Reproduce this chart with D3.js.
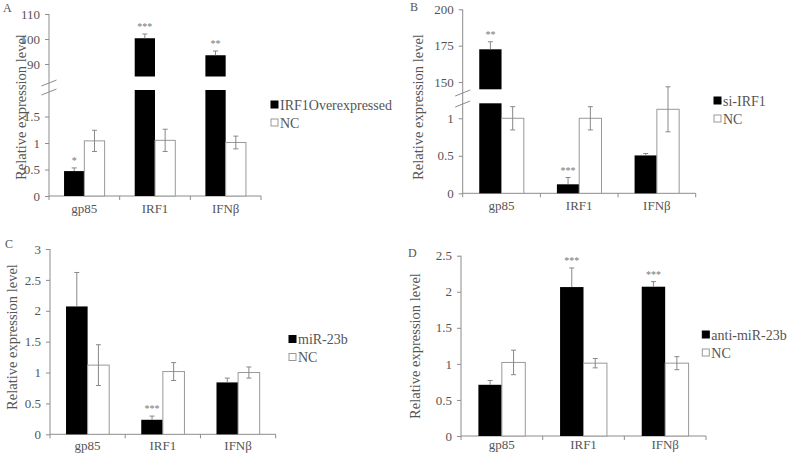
<!DOCTYPE html>
<html><head><meta charset="utf-8">
<script src="https://cdn.jsdelivr.net/npm/d3@7"></script>
<style>body{margin:0;background:#fff}svg{display:block}
svg text{font-family:"Liberation Serif","DejaVu Serif","Times New Roman",Times,serif !important;}</style>
</head><body>
<svg id="c" width="787" height="463"></svg>
<script>
const categories = ["gp85", "IRF1", "IFNβ"];

const aTreat = [0.47, 100.3, 93.5];
const aTreatErr = [0.06, 1.7, 1.7];
const aNC = [1.04, 1.05, 1.01];
const aNCErr = [0.2, 0.21, 0.12];
const aStars = ["*", "***", "**"];
const aLegend = ["IRF1Overexpressed", "NC"];

const bTreat = [172.5, 0.12, 0.505];
const bTreatErr = [5.2, 0.09, 0.025];
const bNC = [1.0, 1.0, 1.12];
const bNCErr = [0.155, 0.155, 0.3];
const bStars = ["**", "***", ""];
const bLegend = ["si-IRF1", "NC"];

const cTreat = [2.07, 0.235, 0.84];
const cTreatErr = [0.55, 0.06, 0.07];
const cNC = [1.12, 1.016, 1.0];
const cNCErr = [0.33, 0.145, 0.09];
const cStars = ["", "***", ""];
const cLegend = ["miR-23b", "NC"];

const dTreat = [0.71, 2.065, 2.07];
const dTreatErr = [0.06, 0.265, 0.07];
const dNC = [1.02, 1.01, 1.01];
const dNCErr = [0.17, 0.065, 0.09];
const dStars = ["", "***", "***"];
const dLegend = ["anti-miR-23b", "NC"];

const aTicksLow = [0, 0.5, 1, 1.5], aTicksHigh = [90, 100, 110];
const bTicksLow = [0, 0.5, 1], bTicksHigh = [150, 175, 200];
const cTicks = [0, 0.5, 1, 1.5, 2, 2.5, 3];
const dTicks = [0, 0.5, 1, 1.5, 2, 2.5];

const svg = d3.select("#c");
const FONT = "Liberation Serif";
const AX = "#8c8c8c", TXT = "#555";

function panel(o) {
  const g = svg.append("g").attr("font-family", FONT);
  const x = d3.scaleBand().domain(categories).range(o.xr);
  const bw = x.bandwidth(), barW = bw * 0.287;
  const low = d3.scaleLinear().domain(o.low).range(o.lowR);
  const high = o.high ? d3.scaleLinear().domain(o.high).range(o.highR) : null;
  const yv = v => (high && v > o.low[1]) ? high(v) : low(v);
  const x0 = o.xr[0], yBase = o.lowR[0];

  // y axis
  const axLow = g.append("g").attr("transform", `translate(${x0},0)`)
    .call(d3.axisLeft(low).tickValues(o.ticksLow).tickSize(4).tickPadding(5).tickFormat(d3.format("")));
  axLow.select(".domain").remove();
  const yTop = high ? o.highR[1] : o.lowR[1];
  g.append("line").attr("x1", x0).attr("x2", x0).attr("y1", yBase).attr("y2", yTop).attr("stroke", AX);
  if (high) {
    const axHigh = g.append("g").attr("transform", `translate(${x0},0)`)
      .call(d3.axisLeft(high).tickValues(o.ticksHigh).tickSize(4).tickPadding(5));
    axHigh.select(".domain").remove();
    o.breaks.forEach(yy => {
      g.append("line").attr("x1", x0 - 7.5).attr("x2", x0 + 7.5).attr("y1", yy + 3).attr("y2", yy - 3)
        .attr("stroke", AX).attr("stroke-width", 1);
    });
  }
  g.selectAll(".tick line").attr("stroke", AX);
  g.selectAll(".tick text").attr("fill", TXT).attr("font-size", 13);

  // x axis
  g.append("line").attr("x1", x0).attr("x2", o.xr[1]).attr("y1", yBase).attr("y2", yBase).attr("stroke", AX);
  const bounds = categories.map(c => x(c)).concat([o.xr[1]]);
  g.selectAll(".xt").data(bounds).enter().append("line")
    .attr("x1", d => d).attr("x2", d => d).attr("y1", yBase).attr("y2", yBase + 4).attr("stroke", AX);
  g.selectAll(".xl").data(categories).enter().append("text")
    .attr("x", d => x(d) + bw / 2).attr("y", yBase + o.labDy).attr("text-anchor", "middle")
    .attr("fill", TXT).attr("font-size", 13).text(d => d);

  // bars
  categories.forEach((c, i) => {
    const cx = x(c) + bw / 2;
    const tv = o.treat[i];
    if (high && tv > o.low[1]) {
      g.append("rect").attr("x", cx - barW).attr("width", barW)
        .attr("y", low(o.low[1])).attr("height", yBase - low(o.low[1])).attr("fill", "#000");
      g.append("rect").attr("x", cx - barW).attr("width", barW)
        .attr("y", high(tv)).attr("height", o.highR[0] - high(tv)).attr("fill", "#000");
    } else {
      g.append("rect").attr("x", cx - barW).attr("width", barW)
        .attr("y", low(tv)).attr("height", yBase - low(tv)).attr("fill", "#000");
    }
    const nv = o.nc[i];
    g.append("rect").attr("x", cx).attr("width", barW)
      .attr("y", low(nv)).attr("height", yBase - low(nv)).attr("fill", "#fff").attr("stroke", "#999");
    const tcx = cx - barW / 2, ncx = cx + barW / 2;
    const tTop = yv(tv + o.treatErr[i]);
    g.append("line").attr("x1", tcx).attr("x2", tcx).attr("y1", yv(tv)).attr("y2", tTop).attr("stroke", "#888");
    g.append("line").attr("x1", tcx - 2.5).attr("x2", tcx + 2.5).attr("y1", tTop).attr("y2", tTop).attr("stroke", "#888");
    const e1 = low(nv + o.ncErr[i]), e2 = low(nv - o.ncErr[i]);
    g.append("line").attr("x1", ncx).attr("x2", ncx).attr("y1", e1).attr("y2", e2).attr("stroke", "#888");
    [e1, e2].forEach(e => g.append("line").attr("x1", ncx - 2.5).attr("x2", ncx + 2.5).attr("y1", e).attr("y2", e).attr("stroke", "#888"));
    if (o.stars[i]) {
      g.append("text").attr("x", tcx).attr("y", tTop - 4).attr("text-anchor", "middle")
        .attr("fill", "#777").attr("font-size", 10).text(o.stars[i]);
    }
  });

  // legend
  o.legend.forEach((t, i) => {
    const ly = o.leg[1] + i * 18;
    g.append("rect").attr("x", o.leg[0]).attr("y", ly - 3.5).attr("width", 7).attr("height", 7)
      .attr("fill", i === 0 ? "#000" : "#fff").attr("stroke", i === 0 ? "#000" : "#999");
    g.append("text").attr("x", o.leg[0] + 9).attr("y", ly + 5).attr("fill", TXT)
      .attr("font-size", 14).text(t);
  });

  // y title
  g.append("text").attr("transform", `translate(${o.title[0]},${o.title[1]}) rotate(-90)`)
    .attr("text-anchor", "middle").attr("dominant-baseline", "central").attr("fill", TXT)
    .attr("font-size", 14.5).text(o.titleText);

  // panel letter
  g.append("text").attr("x", o.letter[0]).attr("y", o.letter[1]).attr("fill", TXT)
    .attr("font-size", 12).text(o.letterText);
}

panel({ xr: [49, 261], low: [0, 2], lowR: [196, 90], high: [85, 110], highR: [76.5, 14], breaks: [83, 92],
  ticksLow: aTicksLow, ticksHigh: aTicksHigh, treat: aTreat, treatErr: aTreatErr, nc: aNC, ncErr: aNCErr,
  stars: aStars, legend: aLegend, leg: [271, 104.5], labDy: 17, title: [21, 107],
  titleText: "Relative  expression level", letter: [3, 12], letterText: "A" });

panel({ xr: [462.7, 695.7], low: [0, 1.2], lowR: [193.3, 103.3], high: [145, 200], highR: [89.3, 9.3], breaks: [93, 104],
  ticksLow: bTicksLow, ticksHigh: bTicksHigh, treat: bTreat, treatErr: bTreatErr, nc: bNC, ncErr: bNCErr,
  stars: bStars, legend: bLegend, leg: [714, 100.5], labDy: 17, title: [418, 107],
  titleText: "Relative  expression  level", letter: [410, 11], letterText: "B" });

panel({ xr: [50, 275.7], low: [0, 3], lowR: [434.3, 249], ticksLow: cTicks,
  treat: cTreat, treatErr: cTreatErr, nc: cNC, ncErr: cNCErr,
  stars: cStars, legend: cLegend, leg: [289, 339], labDy: 16, title: [12, 337],
  titleText: "Relative expression level", letter: [5, 248], letterText: "C" });

panel({ xr: [461, 706], low: [0, 2.5], lowR: [436, 255.7], ticksLow: dTicks,
  treat: dTreat, treatErr: dTreatErr, nc: dNC, ncErr: dNCErr,
  stars: dStars, legend: dLegend, leg: [702.3, 334.5], labDy: 13, title: [415, 346],
  titleText: "Relative expression level", letter: [408, 257], letterText: "D" });
</script>
</body></html>
